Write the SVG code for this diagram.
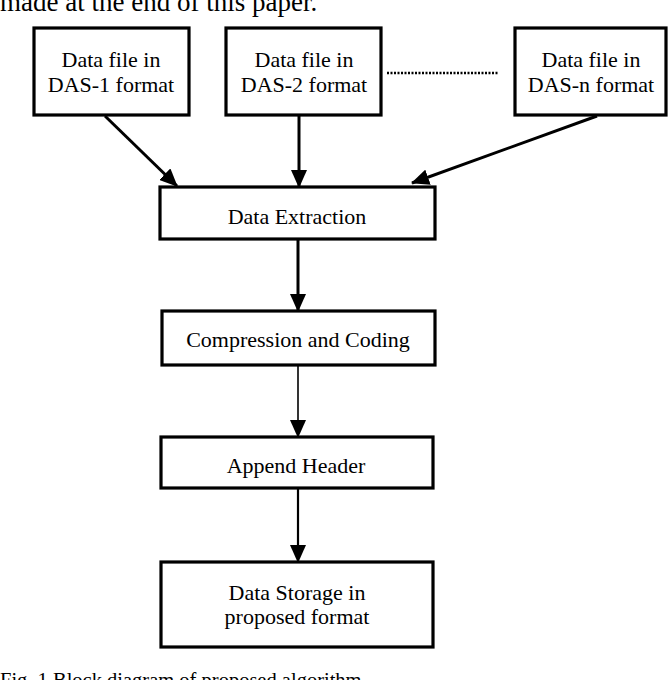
<svg xmlns="http://www.w3.org/2000/svg" width="670" height="680" viewBox="0 0 670 680">
<defs>
<style>
.box{fill:#fff;stroke:#000;stroke-width:3.2}
.t{font-family:"Liberation Serif","Times New Roman",serif;font-size:22px;fill:#000;text-anchor:middle}
.c{stroke:#000;fill:none}
.thick{stroke-width:3}
.mid{stroke-width:2.2}
.thin{stroke-width:1.6}
.page{font-family:"Liberation Serif","Times New Roman",serif;fill:#000}
</style>
<marker id="ah" markerUnits="userSpaceOnUse" markerWidth="18" markerHeight="16" viewBox="0 0 18 16" refX="17" refY="8" orient="auto">
<path d="M0,0 L18,8 L0,16 z" fill="#000"/>
</marker>
</defs>
<rect width="670" height="680" fill="#fff"/>
<text class="page" x="0" y="11" font-size="27">made at the end of this paper.</text>
<text class="page" x="0" y="687" font-size="20.5">Fig. 1  Block diagram of proposed algorithm</text>
<g id="connectors">
<line class="c thick" x1="105" y1="116" x2="177" y2="186" marker-end="url(#ah)"/>
<line class="c thick" x1="299" y1="115" x2="299" y2="187" marker-end="url(#ah)"/>
<line class="c thick" x1="597" y1="116" x2="412" y2="183" marker-end="url(#ah)"/>
<line class="c thick" x1="298" y1="240" x2="298" y2="311" marker-end="url(#ah)"/>
<line class="c thin" x1="298" y1="366" x2="298" y2="437" marker-end="url(#ah)"/>
<line class="c mid" x1="298" y1="488" x2="298" y2="562" marker-end="url(#ah)"/>
<line class="c" x1="387" y1="73" x2="498" y2="73" stroke-width="2.5" stroke-dasharray="2,1.5"/>
</g>
<g id="das1">
<rect class="box" x="34" y="28" width="155" height="87"/>
<text class="t" x="111" y="67">Data file in</text>
<text class="t" x="111" y="92">DAS-1 format</text>
</g>
<g id="das2">
<rect class="box" x="226" y="28" width="155" height="87"/>
<text class="t" x="304" y="67">Data file in</text>
<text class="t" x="304" y="92">DAS-2 format</text>
</g>
<g id="dasn">
<rect class="box" x="515" y="28" width="151" height="87"/>
<text class="t" x="591" y="67">Data file in</text>
<text class="t" x="591" y="92">DAS-n format</text>
</g>
<g id="extraction">
<rect class="box" x="160" y="187" width="275" height="52"/>
<text class="t" x="297" y="224">Data Extraction</text>
</g>
<g id="compression">
<rect class="box" x="162" y="311" width="273" height="54"/>
<text class="t" x="298" y="347">Compression and Coding</text>
</g>
<g id="header">
<rect class="box" x="161" y="437" width="272" height="51"/>
<text class="t" x="296" y="473">Append Header</text>
</g>
<g id="storage">
<rect class="box" x="161" y="562" width="272" height="85"/>
<text class="t" x="297" y="600">Data Storage in</text>
<text class="t" x="297" y="624">proposed format</text>
</g>
</svg>
